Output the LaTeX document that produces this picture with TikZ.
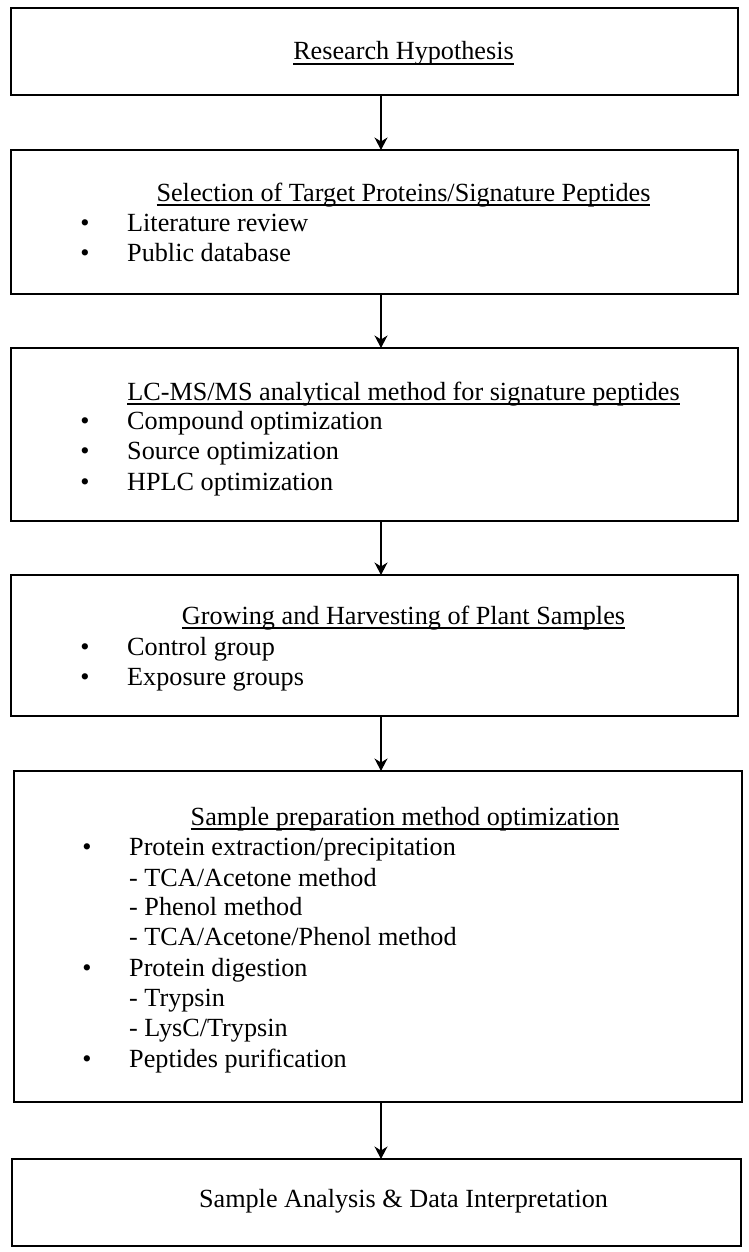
\documentclass[tikz,border=0pt]{standalone}
\usepackage{fontspec}
\setmainfont{Liberation Serif}
\usetikzlibrary{arrows.meta}
\newcommand{\wordul}[1]{\setbox0=\hbox{#1}\rlap{\vrule height -0.12em depth 0.18em width \wd0}\box0}
\begin{document}
\begin{tikzpicture}[x=1pt,y=-1pt,
  box/.style={draw, line width=2pt, rectangle, inner sep=0pt, outer sep=0pt, anchor=north west},
  txt/.style={inner sep=0pt, anchor=base west, font=\fontsize{26.2pt}{30pt}\selectfont},
  ttl/.style={inner sep=0pt, anchor=base, font=\fontsize{26.2pt}{30pt}\selectfont},
  bul/.style={inner sep=0pt, anchor=base, font=\fontsize{26.2pt}{30pt}\selectfont},
  arr/.style={line width=1.3pt, -{Stealth[length=12.5pt,width=13pt,inset=4pt]}}]
\useasboundingbox (0,0) rectangle (749,1252);
\coordinate (ax) at (381,0);

% boxes
\node[box, minimum width=727pt, minimum height=87pt] (b1) at (11,8) {};
\node[box, minimum width=727pt, minimum height=144pt] (b2) at (11,150) {};
\node[box, minimum width=727pt, minimum height=173pt] (b3) at (11,348) {};
\node[box, minimum width=727pt, minimum height=141pt] (b4) at (11,575) {};
\node[box, minimum width=728pt, minimum height=331pt] (b5) at (14,771) {};
\node[box, minimum width=729pt, minimum height=87pt] (b6) at (12,1159) {};

% arrows
\draw[arr] (b1.south -| ax) -- (b2.north -| ax);
\draw[arr] (b2.south -| ax) -- (b3.north -| ax);
\draw[arr] (b3.south -| ax) -- (b4.north -| ax);
\draw[arr] (b4.south -| ax) -- (b5.north -| ax);
\draw[arr] (b5.south -| ax) -- (b6.north -| ax);

% box 1
\node[ttl] (t1) at (403.5,60) {\wordul{Research Hypothesis}};

% box 2
\node[ttl] (t2) at (403.5,201) {\wordul{Selection of Target Proteins/Signature Peptides}};
\node[bul] (b2a) at (85,231) {•};
\node[txt] (l2a) at (127,231) {Literature review};
\node[bul] (b2b) at (85,261) {•};
\node[txt] (l2b) at (127,261) {Public database};

% box 3
\node[ttl] (t3) at (403.5,400) {\wordul{LC-MS/MS analytical method for signature peptides}};
\node[bul] (b3a) at (85,429) {•};
\node[txt] (l3a) at (127,429) {Compound optimization};
\node[bul] (b3b) at (85,459.6) {•};
\node[txt] (l3b) at (127,459.6) {Source optimization};
\node[bul] (b3c) at (85,490) {•};
\node[txt] (l3c) at (127,490) {HPLC optimization};

% box 4
\node[ttl] (t4) at (403.5,624) {\wordul{Growing and Harvesting of Plant Samples}};
\node[bul] (b4a) at (85,655.5) {•};
\node[txt] (l4a) at (127,655.5) {Control group};
\node[bul] (b4b) at (85,685) {•};
\node[txt] (l4b) at (127,685) {Exposure groups};

% box 5
\node[ttl] (t5) at (405,825) {\wordul{Sample preparation method optimization}};
\node[bul] (b5a) at (87,855) {•};
\node[txt] (l5a) at (129,855) {Protein extraction/precipitation};
\node[txt] (l5b) at (129,886) {- TCA/Acetone method};
\node[txt] (l5c) at (129,915) {- Phenol method};
\node[txt] (l5d) at (129,945.5) {- TCA/Acetone/Phenol method};
\node[bul] (b5e) at (87,976) {•};
\node[txt] (l5e) at (129,976) {Protein digestion};
\node[txt] (l5f) at (129,1006.5) {- Trypsin};
\node[txt] (l5g) at (129,1036) {- LysC/Trypsin};
\node[bul] (b5h) at (87,1067) {•};
\node[txt] (l5h) at (129,1067) {Peptides purification};

% box 6
\node[ttl] (t6) at (403.5,1207) {Sample Analysis \& Data Interpretation};
\end{tikzpicture}
\end{document}
